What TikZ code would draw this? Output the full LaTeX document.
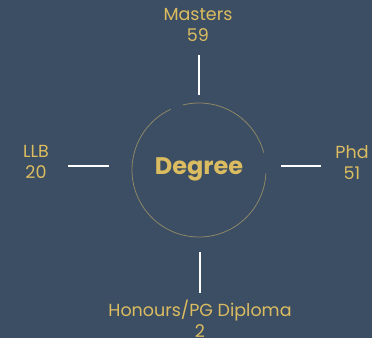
\documentclass[tikz,border=0pt]{standalone}
\usepackage{fontspec}
\setmainfont{Poppins}
\definecolor{bg}{HTML}{3B4E63}
\definecolor{gold}{HTML}{DCBC60}
\definecolor{ring}{HTML}{8E8666}
\begin{document}
\begin{tikzpicture}[x=1pt,y=-1pt,
  lbl/.style={text=gold,font=\fontsize{17.5}{21}\selectfont,align=center,inner sep=0pt},
  ringline/.style={draw=ring,line width=0.8pt},
  tick/.style={draw=white,line width=2pt}]
\fill[bg] (0,0) rectangle (372,338);
\useasboundingbox (0,0) rectangle (372,338);
\node[circle,minimum size=134pt,inner sep=0pt] (deg) at (199,170) {};
\draw[ringline] (deg.center) ++(15:67pt) arc[start angle=15,end angle=104,radius=67pt];
\draw[ringline] (deg.center) ++(115:67pt) arc[start angle=115,end angle=357,radius=67pt];
\node[text=gold,font=\fontsize{24}{28}\selectfont\bfseries] (degt) at (199,169) {Degree};
\node[lbl] (mas) at (198,25) {Masters\\59};
\node[lbl] (llb) at (36,162) {LLB\\20};
\node[lbl] (phd) at (352,163) {Phd\\51};
\node[lbl] (hon) at (200,318.5) {Honours/PG Diploma\\2};
\coordinate (t1) at (199,55); \coordinate (t2) at (199,95);
\coordinate (l1) at (68,166); \coordinate (l2) at (109,166);
\coordinate (r1) at (281,166); \coordinate (r2) at (321,166);
\coordinate (b1) at (200,252); \coordinate (b2) at (200,293);
\draw[tick] (t1) -- (t2);
\draw[tick] (l1) -- (l2);
\draw[tick] (r1) -- (r2);
\draw[tick] (b1) -- (b2);
\end{tikzpicture}
\end{document}
